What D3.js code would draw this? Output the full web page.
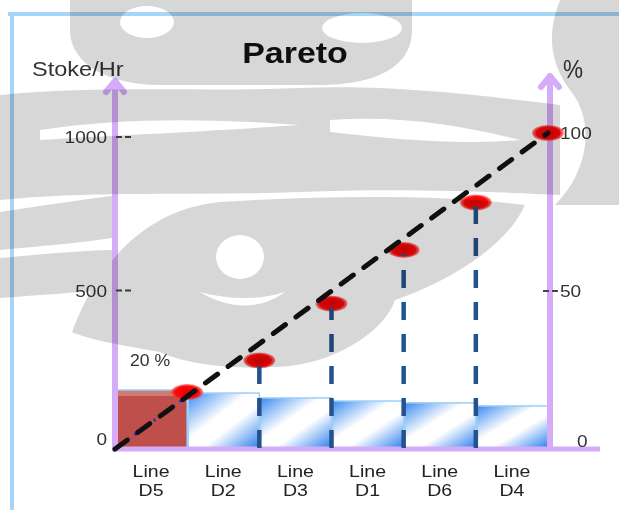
<!DOCTYPE html>
<html>
<head>
<meta charset="utf-8">
<script src="https://cdn.jsdelivr.net/npm/d3@7"></script>
<style>
  html, body { margin: 0; padding: 0; background: #fff; }
  svg { display: block; }
  text { font-family: "Liberation Sans", Arial, sans-serif; }
</style>
</head>
<body>
<svg id="chart" width="619" height="510"></svg>
<script>
// Pareto of stokes per hour by line, with cumulative share
const categories = ["Line D5", "Line D2", "Line D3", "Line D1", "Line D6", "Line D4"];
const stokePerHr = [176, 166, 150, 140, 134, 124];
const cumulativePct = [18, 28, 46, 63, 78, 100];
const leftTicks = [0, 500, 1000];
const rightTicks = [0, 50, 100];
const equalShareLine = [0, 100];   // straight line from origin to 100 %
const shareNote = "20 %";

const svg = d3.select("#chart");
const W = 619, H = 510;
const plotLeft = 115, plotRight = 548, baseline = 448;

svg.append("rect").attr("width", W).attr("height", H).attr("fill", "#fff");

const x = d3.scaleBand().domain(categories).range([plotLeft, plotRight]).padding(0);
const yLeft = d3.scaleLinear().domain([0, 1000]).range([444, 137]);
const yPct = d3.scaleLinear().domain([0, 100]).range([449, 133]);

const defs = svg.append("defs");
const blue = defs.append("linearGradient").attr("id", "barBlue")
  .attr("x1", 0).attr("y1", 0).attr("x2", 1).attr("y2", 1);
[[0, "#3a8bf0"], [0.42, "#ffffff"], [0.6, "#ffffff"], [1, "#2a80ee"]]
  .forEach(([o, c]) => blue.append("stop").attr("offset", o).attr("stop-color", c));
const red = defs.append("linearGradient").attr("id", "barRed")
  .attr("x1", 0).attr("y1", 0).attr("x2", 0).attr("y2", 1);
[[0, "#cc7b75"], [0.1, "#cc7b75"], [0.11, "#be4f4b"], [1, "#be4f4b"]]
  .forEach(([o, c]) => red.append("stop").attr("offset", o).attr("stop-color", c));
const dot = defs.append("radialGradient").attr("id", "dotRed");
[[0, "#e40000", 1], [0.75, "#ff0808", 1], [1, "#ff3030", 0.5]]
  .forEach(([o, c, a]) => dot.append("stop").attr("offset", o).attr("stop-color", c).attr("stop-opacity", a));
defs.append("clipPath").attr("id", "firstBarClip").append("rect")
  .attr("x", x(categories[0])).attr("y", yLeft(stokePerHr[0]))
  .attr("width", x.bandwidth()).attr("height", baseline - yLeft(stokePerHr[0]));

// frame
const frame = svg.append("g").attr("stroke", "#a6d5f8").attr("stroke-width", 4);
frame.append("line").attr("x1", 8).attr("x2", W).attr("y1", 14).attr("y2", 14);
frame.append("line").attr("x1", 12).attr("x2", 12).attr("y1", 12).attr("y2", H);

// bars
svg.append("g").selectAll("rect").data(stokePerHr).join("rect")
  .attr("x", (d, i) => x(categories[i]) + 1)
  .attr("y", d => yLeft(d))
  .attr("width", x.bandwidth() - 1)
  .attr("height", d => baseline - yLeft(d))
  .attr("fill", (d, i) => i === 0 ? "url(#barRed)" : "url(#barBlue)")
  .attr("stroke", "#9ccff7").attr("stroke-width", 1.5);

// axes
const axisColor = "#d5acf8";
const axes = svg.append("g").attr("stroke", axisColor).attr("fill", "none");
const leftX = plotLeft, rightX = plotRight + 2;
axes.append("line").attr("x1", leftX).attr("x2", leftX).attr("y1", 80).attr("y2", 451).attr("stroke-width", 6);
axes.append("line").attr("x1", rightX).attr("x2", rightX).attr("y1", 75).attr("y2", 451).attr("stroke-width", 6);
axes.append("line").attr("x1", 112).attr("x2", 600).attr("y1", 449).attr("y2", 449).attr("stroke-width", 5);
[[leftX, 79], [rightX, 74]].forEach(([ax, top]) => {
  axes.append("path")
    .attr("d", `M${ax - 9},${top + 13} L${ax},${top + 2} L${ax + 9},${top + 13}`)
    .attr("stroke-width", 6).attr("stroke-linejoin", "round").attr("stroke-linecap", "round");
});

// widen glyphs slightly, as the labels are set in a broad face
function widen(sel, k) {
  sel.each(function () {
    const len = this.getComputedTextLength();
    d3.select(this).attr("textLength", len * k).attr("lengthAdjust", "spacingAndGlyphs");
  });
}

// tick labels and dashed tick marks
const tickG = svg.append("g").attr("fill", "#333").attr("font-size", 17);
tickG.selectAll("text.l").data(leftTicks).join("text").attr("class", "l")
  .attr("x", leftX - 8).attr("y", d => Math.min(yLeft(d) + 6, baseline - 3))
  .attr("text-anchor", "end").text(d => d).call(widen, 1.12);
tickG.selectAll("text.r").data(rightTicks).join("text").attr("class", "r")
  .attr("x", d => d === 0 ? rightX + 27 : rightX + 10).attr("y", d => Math.min(yPct(d) + 6, baseline - 1))
  .text(d => d).call(widen, 1.12);
const tickMarks = svg.append("g").attr("stroke", "#444").attr("stroke-width", 2).attr("stroke-dasharray", "6,3");
tickMarks.selectAll("line.l").data(leftTicks.filter(d => d > 0)).join("line").attr("class", "l")
  .attr("x1", leftX + 1).attr("x2", leftX + 16).attr("y1", d => yLeft(d)).attr("y2", d => yLeft(d));
tickMarks.selectAll("line.r").data(rightTicks.filter(d => d > 0)).join("line").attr("class", "r")
  .attr("x1", rightX - 7).attr("x2", rightX + 8).attr("y1", d => yPct(d)).attr("y2", d => yPct(d));

// cumulative points
const px = i => x(categories[i]) + x.bandwidth();
svg.append("g").selectAll("ellipse").data(cumulativePct).join("ellipse")
  .attr("cx", (d, i) => px(i)).attr("cy", d => yPct(d))
  .attr("rx", 16).attr("ry", 8).attr("fill", "url(#dotRed)");

// drop lines from the cumulative points to the base
svg.append("g").selectAll("line").data(cumulativePct.slice(1, -1)).join("line")
  .attr("x1", (d, i) => px(i + 1)).attr("x2", (d, i) => px(i + 1))
  .attr("y1", baseline).attr("y2", d => yPct(d) + 4)
  .attr("stroke", "#24528a").attr("stroke-width", 4.5).attr("stroke-dasharray", "18,14");

// equal-share reference line
const refPts = equalShareLine.map((d, i) => [i === 0 ? plotLeft : plotRight, yPct(d)]);
svg.append("path").attr("d", d3.line()(refPts)).attr("clip-path", "url(#firstBarClip)")
  .attr("stroke", "#1836e0").attr("stroke-width", 3).attr("fill", "none")
  .attr("stroke-dasharray", "2,6");
svg.append("path").attr("d", d3.line()(refPts))
  .attr("stroke", "#111").attr("stroke-width", 5).attr("fill", "none")
  .attr("stroke-dasharray", "15,13").attr("stroke-linecap", "round");

// category labels on two lines
const catG = svg.append("g").attr("fill", "#222").attr("font-size", 17).attr("text-anchor", "middle");
categories.forEach(c => {
  const parts = c.split(" ");
  const cx = x(c) + x.bandwidth() / 2;
  catG.append("text").attr("x", cx).attr("y", 477).text(parts[0]);
  catG.append("text").attr("x", cx).attr("y", 496).text(parts[1]);
});
catG.selectAll("text").call(widen, 1.15);

// titles
svg.append("text").attr("x", 295).attr("y", 63).attr("text-anchor", "middle")
  .attr("font-size", 29).attr("font-weight", "bold").attr("fill", "#111").text("Pareto").call(widen, 1.17);
svg.append("text").attr("x", 32).attr("y", 76).attr("font-size", 21).attr("fill", "#333")
  .text("Stoke/Hr").call(widen, 1.12);
svg.append("text").attr("x", 563).attr("y", 78).attr("font-size", 25).attr("fill", "#333")
  .text("%").call(widen, 0.9);
svg.append("text").attr("x", 130).attr("y", 366).attr("font-size", 16).attr("fill", "#333")
  .text(shareNote).call(widen, 1.1);

// faint emblem printed across the page
const emblem = svg.append("g").attr("fill", "#d7d7d7").attr("fill-rule", "evenodd")
  .style("mix-blend-mode", "multiply");
[
  "M70,0 H412 V30 C412,70 370,85 320,85 H160 C110,85 70,65 70,30 Z M147,22 m-27,0 a27,16 0 1,0 54,0 a27,16 0 1,0 -54,0 M362,28 m-40,0 a40,15 0 1,0 80,0 a40,15 0 1,0 -80,0",
  "M560,0 H619 V205 H555 C590,170 595,120 570,90 C548,60 548,30 560,0 Z",
  "M0,95 C100,85 200,92 300,88 C400,84 500,98 560,105 V195 C500,192 400,188 300,192 C200,196 100,190 0,200 Z M40,130 C120,118 200,118 300,125 C200,132 120,135 40,140 Z M330,120 C400,115 460,125 520,140 C460,145 400,140 330,132 Z",
  "M0,212 C40,206 80,200 112,196 V238 C80,243 40,246 0,250 Z",
  "M0,258 C40,254 80,251 112,250 V290 C80,292 40,295 0,298 Z",
  "M72,332 C95,270 140,210 220,202 C330,195 450,195 525,205 C505,250 440,285 395,300 C385,330 340,360 290,366 C240,370 190,366 160,352 C120,345 90,340 72,332 Z M240,257 m-24,0 a24,22 0 1,0 48,0 a24,22 0 1,0 -48,0 M200,292 C230,310 260,310 285,292 C260,300 230,300 200,292 Z"
].forEach(d => emblem.append("path").attr("d", d));
</script>
</body>
</html>
